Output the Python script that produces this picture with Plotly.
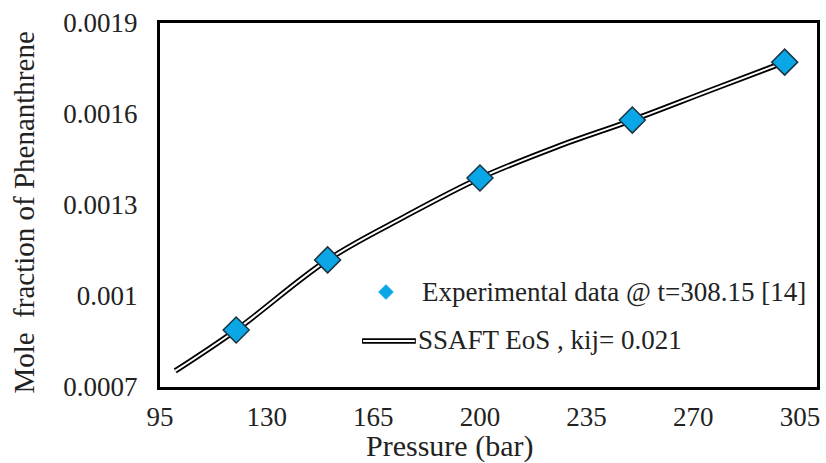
import plotly.graph_objects as go

# Experimental data (pressure in bar, mole fraction)
exp_pressure = [120, 150, 200, 250, 300]
exp_fraction = [0.000888, 0.001119, 0.001389, 0.001580, 0.001771]

# SSAFT EoS model curve
model_pressure = [100, 120, 150, 175, 200, 225, 250, 275, 300]
model_fraction = [0.000753, 0.000888, 0.001119, 0.001260, 0.001389, 0.001491, 0.001580, 0.001676, 0.001771]

x_ticks = [95, 130, 165, 200, 235, 270, 305]
y_ticks = [0.0007, 0.001, 0.0013, 0.0016, 0.0019]
y_ticktext = ["0.0007", "0.001", "0.0013", "0.0016", "0.0019"]

legend_exp = "Experimental data @ t=308.15 [14]"
legend_model = "SSAFT EoS , kij= 0.021"

FONT = "Liberation Serif"
BLUE = "#0AA6E6"
DARK = "#1C3442"

fig = go.Figure()
fig.add_trace(go.Scatter(x=model_pressure, y=model_fraction, mode="lines",
                         line=dict(color="black", width=5.5, shape="spline"),
                         hoverinfo="skip", showlegend=False))
fig.add_trace(go.Scatter(x=model_pressure, y=model_fraction, mode="lines",
                         line=dict(color="white", width=2, shape="spline"),
                         hoverinfo="skip", showlegend=False))
fig.add_trace(go.Scatter(x=exp_pressure, y=exp_fraction, mode="markers",
                         marker=dict(symbol="diamond", size=20, color=BLUE,
                                     line=dict(color=DARK, width=1.5)),
                         showlegend=False))

# Manual legend (paper coordinates)
W, H = 660.0, 364.0
def px(xp):
    return (xp - 160) / W
def py(yp):
    return (387 - yp) / H

cx, cy, r = 387, 292, 7.5
fig.add_shape(type="path", xref="paper", yref="paper",
              path=f"M {px(cx - r)} {py(cy)} L {px(cx)} {py(cy - r)} L {px(cx + r)} {py(cy)} L {px(cx)} {py(cy + r)} Z",
              fillcolor=BLUE, line=dict(color=BLUE, width=0.5))
fig.add_shape(type="line", xref="paper", yref="paper",
              x0=px(363), x1=px(417), y0=py(341), y1=py(341),
              line=dict(color="black", width=5.5))
fig.add_shape(type="line", xref="paper", yref="paper",
              x0=px(364), x1=px(416), y0=py(341), y1=py(341),
              line=dict(color="white", width=2))
fig.add_annotation(xref="paper", yref="paper", x=px(421), y=py(292),
                   text=legend_exp, showarrow=False, xanchor="left", yanchor="middle",
                   font=dict(family=FONT, size=27, color="#222"))
fig.add_annotation(xref="paper", yref="paper", x=px(417), y=py(340),
                   text=legend_model, showarrow=False, xanchor="left", yanchor="middle",
                   font=dict(family=FONT, size=27, color="#222"))

# Axis titles
fig.add_annotation(xref="paper", yref="paper", x=px(451), y=py(446),
                   text="Pressure (bar)", showarrow=False, xanchor="center", yanchor="middle",
                   font=dict(family=FONT, size=30, color="#222"))
fig.add_annotation(xref="paper", yref="paper", x=px(23), y=py(213),
                   text="Mole  fraction of Phenanthrene", showarrow=False, textangle=-90,
                   xanchor="center", yanchor="middle",
                   font=dict(family=FONT, size=29, color="#222"))

fig.update_xaxes(range=[95, 310.6], tickvals=x_ticks, showgrid=False, zeroline=False,
                 showline=True, mirror=True, linecolor="black", linewidth=3,
                 ticks="", ticklabelstandoff=4,
                 tickfont=dict(family=FONT, size=27, color="#222"))
fig.update_yaxes(range=[0.0007, 0.0019], tickvals=y_ticks, ticktext=y_ticktext,
                 showgrid=False, zeroline=False,
                 showline=True, mirror=True, linecolor="black", linewidth=3,
                 ticks="", ticklabelstandoff=14,
                 tickfont=dict(family=FONT, size=27, color="#222"))

fig.update_layout(width=826, height=463, margin=dict(l=160, r=6, t=23, b=76),
                  paper_bgcolor="white", plot_bgcolor="white", showlegend=False,
                  font=dict(family=FONT))

fig.write_html("out.html", config={"displayModeBar": False},
               post_script="document.body.style.margin='0';document.body.style.overflow='hidden';")
